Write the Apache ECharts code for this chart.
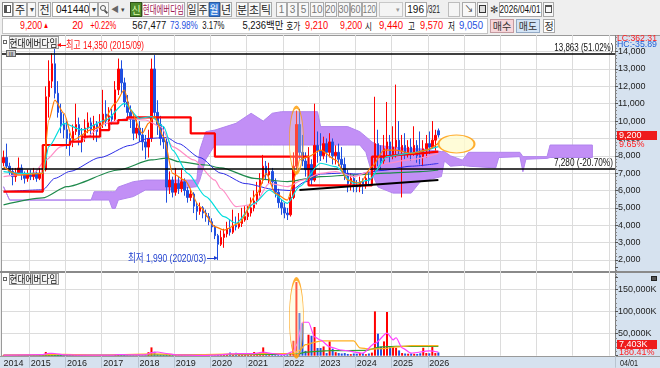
<!DOCTYPE html>
<html><head><meta charset="utf-8">
<script src="https://cdn.jsdelivr.net/npm/echarts@6/dist/echarts.min.js"></script>
<style>
html,body{margin:0;padding:0;}
body{width:660px;height:368px;overflow:hidden;position:relative;background:#efefef;font-family:'Liberation Sans Narrow','Liberation Sans','Noto Sans CJK KR',sans-serif;}
.a{position:absolute;box-sizing:border-box;}
#bg,#chart,#ov{position:absolute;left:0;top:0;width:660px;height:368px;}
#bg{z-index:1;} #chart{z-index:2;} #ov{z-index:3;pointer-events:none;}
</style></head><body>
<div id="bg"></div><div id="chart"></div><div id="ov"></div>
<script>
// ================= DATA =================
const startYear = 2014, startMonth = 4, nCats = 203;   // monthly axis 2014-04 .. 2031-02
// monthly candles [open, close, low, high]
const candles = [
 // 2014 (04-12)
 [7600,7900,7400,8300],[7900,7400,7200,8700],[7400,7100,6900,7600],[7100,6800,6300,7300],[6800,7000,6500,7300],[7000,7300,6900,7900],[7300,6900,6600,7500],[6900,6700,6400,7100],[6700,6900,6500,7200],
 // 2015
 [6900,6800,6600,7200],[6800,7000,6600,7300],[7000,6700,6500,7200],[6700,7000,6600,7300],[7000,7200,6800,7800],[7200,11400,7100,12000],[11400,12300,10200,13500],[12300,13300,11900,13900],[13300,11600,11300,14350],[11600,10500,10200,12300],[10500,9800,9300,11000],[9800,9500,9000,10400],
 // 2016
 [9500,9000,8400,10000],[9000,8800,8000,9300],[8800,9400,8500,9800],[9400,9800,9200,11000],[9800,9200,8600,10200],[9200,9000,8200,9600],[9000,9600,8800,10100],[9600,9900,9300,10500],[9900,9500,9100,10200],[9500,9800,8900,10300],[9800,9400,8800,10000],[9400,9900,9200,10400],
 // 2017
 [9900,10400,9600,11800],[10400,10000,9700,11200],[10000,10300,9700,10800],[10300,10100,9800,10700],[10100,11800,10000,12300],[11800,13000,11500,13600],[13000,12200,11600,13500],[12200,11100,10800,12500],[11100,10500,10200,11500],[10500,10100,9600,10900],[10100,9300,8900,10400],[9300,9600,9000,10100],
 // 2018
 [9600,9200,8800,10000],[9200,8800,8300,9600],[8800,8500,7800,9200],[8500,9000,7900,9500],[9000,13000,8800,13600],[13000,10500,10200,13800],[10500,9800,9200,11200],[9800,9000,8600,10300],[9000,8800,8400,9700],[8800,6200,5300,9000],[6200,6600,5800,7100],[6600,5900,5600,6800],
 // 2019
 [5900,6400,5700,7300],[6400,6100,5800,6800],[6100,6500,5900,7200],[6500,6000,5700,6700],[6000,5600,5300,6200],[5600,5800,5400,6100],[5800,5100,4700,5900],[5100,4800,4300,5300],[4800,5000,4600,5300],[5000,4700,4400,5100],[4700,4500,4200,4900],[4500,4200,4000,4700],
 // 2020
 [4200,3900,3600,4400],[3900,3400,3200,4000],[3400,2900,1990,3500],[2900,3300,2800,3700],[3300,3500,2700,3800],[3500,3800,3300,4200],[3800,3600,3400,4300],[3600,4000,3500,4900],[4000,3900,3700,4500],[3900,4100,3800,4700],[4100,4300,3900,5000],[4300,4500,4200,5100],
 // 2021
 [4500,4700,4300,5100],[4700,5000,4500,5600],[5000,5400,4800,6000],[5400,5900,5200,6500],[5900,6600,5700,7000],[6600,7400,6400,8050],[7400,6900,6600,7700],[6900,7100,6400,7600],[7100,6500,6200,7300],[6500,5900,5600,6700],[5900,5300,5000,6100],[5300,5000,4600,5500],
 // 2022
 [5000,4700,4400,5300],[4700,4600,4300,5000],[4600,5600,4500,5900],[5600,7400,5500,8200],[7400,9800,7200,10600],[9800,8200,7800,10700],[8200,7700,7400,9200],[7700,7200,6800,8200],[7200,7500,6700,8500],[7500,6600,6300,7800],[6600,8600,6500,11000],[8600,8300,7600,9400],
 // 2023
 [8300,8000,7700,9300],[8000,8700,7800,9100],[8700,8200,7600,9000],[8200,8800,7900,9300],[8800,8000,7500,9000],[8000,8200,7500,8600],[8200,7800,7400,8700],[7800,7500,7200,8500],[7500,7000,6600,7900],[7000,6400,5900,7200],[6400,6700,6000,7000],[6700,6300,5900,6900],
 // 2024
 [6300,6200,5900,6600],[6200,6500,5900,6800],[6500,6300,5800,6700],[6300,6700,6100,7000],[6700,6600,6300,7200],[6600,7300,6500,7800],[7300,8700,7100,11400],[8700,8000,7400,9500],[8000,7700,7200,8600],[7700,8400,7500,9200],[8400,8800,7900,11100],[8800,8000,7600,9200],
 // 2025
 [8000,8500,7800,9700],[8500,8900,7900,12100],[8900,8300,8000,10000],[8300,8600,5600,9200],[8600,8100,7800,9300],[8100,8500,7900,8900],[8500,8200,7700,9000],[8200,8600,8000,9700],[8600,8000,7600,8900],[8000,7900,7500,9400],[7900,8400,7400,8900],[8400,8700,7900,9200],
 // 2026 (01-04)
 [8700,8500,8100,9400],[8500,8900,8400,10000],[8900,9180,8300,9500],[9440,9200,9050,9570]
];
// monthly volume, thousand shares
const volumes = [
 1500,1200,900,800,1000,1500,1000,800,900,
 900,1100,900,1200,2500,8500,6000,4000,3500,2000,1500,1200,
 1200,1000,1300,1800,1300,1000,1100,1200,1000,1100,900,1000,
 1500,1200,1000,900,2000,3500,2500,1800,1200,1000,900,900,
 1000,900,1200,8000,18900,9000,3500,2500,1800,3000,1500,1200,
 1200,1000,1100,900,800,800,900,800,700,700,600,700,
 800,1000,2500,3000,2500,3000,7000,3500,6500,2500,2000,2500,
 3000,4000,8400,6000,7500,18900,6000,4000,3000,2500,2000,2000,
 1800,2000,3500,34000,167500,97000,74000,11000,47700,45400,65200,17500,
 17500,21000,6000,32500,15900,8000,6000,5000,6000,4000,3500,5000,
 4500,6000,5500,3500,5000,7000,100700,50000,20000,32500,99300,20500,
 20500,18000,12000,6000,5000,4500,5000,4500,4000,5500,18000,6000,
 5500,19700,6000,7403
];
// indicator lines: [monthIndex, value]
const ma5Pts  = [[0,7370],[5,6890],[13,6990],[15,10060],[17,11210],[20,10450],[23,8910],[29,9490],[32,9680],[37,11020],[40,11790],[42,10640],[46,9290],[48,9870],[50,10250],[53,9100],[56,6990],[60,6600],[65,5070],[70,3920],[73,3720],[78,4110],[84,5840],[87,6990],[90,5840],[94,5450],[97,6990],[98,7760],[101,7950],[105,8330],[110,7760],[114,6600],[118,6410],[122,7370],[126,8330],[130,8330],[135,8140],[140,8330],[144,8720]];
const ma10Pts = [[0,7090],[6,6990],[13,6990],[15,8530],[20,9870],[26,9490],[34,10060],[40,11020],[45,10160],[49,10250],[53,9680],[56,8330],[61,6990],[67,5650],[73,4490],[77,4110],[83,5260],[88,6030],[94,5260],[98,6220],[105,7570],[110,7370],[116,6410],[121,6600],[127,7950],[134,8140],[144,8530]];
const ma20Pts = [[0,6800],[10,6990],[14,7760],[19,8530],[26,8910],[34,9870],[41,10160],[47,10060],[52,9680],[56,8530],[63,7760],[70,6600],[72,6100],[77,5070],[83,5200],[88,6410],[94,6220],[99,6600],[105,6990],[110,7090],[116,6800],[121,7090],[127,7570],[134,7760],[144,8140]];
const ma60Pts = [[0,5930],[13,6040],[17,6700],[22,7100],[32,7900],[42,8600],[48,9000],[54,9050],[58,8700],[65,7900],[72,7000],[80,6400],[90,6050],[95,6000],[100,6500],[105,6950],[112,7000],[117,6950],[125,7150],[135,7400],[144,7560]];
const ma120Pts= [[0,5170],[13,5570],[21,6220],[38,7180],[49,7760],[54,7870],[58,7660],[67,7470],[72,7300],[83,6700],[94,6510],[105,6800],[116,6900],[127,7000],[138,7090],[144,7180]];
const kijunPts= [[0,5930],[13,8620],[21,8620],[22,8810],[26,9100],[32,9480],[35,9870],[38,10060],[41,10215],[62,9290],[70,7950],[101,6300],[122,7950],[126,8050],[131,8140],[138,8240],[144,8240]];
// cloud: [monthIndex, upper, lower]
const cloudPts = [[0,6220,6220],[2,5450,5450],[29,5450,5450],[30,5930,5450],[35,5930,5450],[36,5930,4970],[37,5930,4970],[38,6200,5450],[43,6510,5650],[47,6600,6030],[54,6600,6030],[64,6600,6220],[65,8330,6600],[67,9390,7800],[70,9480,8620],[77,9870,8620],[82,10450,8620],[86,10000,8620],[89,10450,8620],[92,10540,8620],[104,10540,8620],[105,9680,8620],[114,9680,8620],[118,9390,8620],[120,9100,8200],[122,8800,7000],[124,8600,6200],[129,8500,5850],[135,8400,5850],[138,8400,6500],[145,8240,6800],[146,8240,7700],[148,8000,7400],[152,7750,7450],[154,8200,7400],[163,8200,7300],[164,8200,7900],[171,8200,7950],[172,7950,7080],[173,7950,7800],[180,7950,7850],[181,8620,7900],[195,8620,7900]];
const trendPts = [[98,6030],[144,6600]];
const levelValues = [13863, 7280];
const levelLabels = ['13,863 (51.02%)', '7,280 (-20.70%)'];
const highNote = {month:'2015-09', value:14350, text:'최고 14,350 (2015/09)'};
const lowNote  = {month:'2020-03', value:1990,  text:'최저 1,990 (2020/03)'};
const priceEllipse = {month:'2022-05', value:8900};
const rightEllipse = {month:'2026-10', value:8680};
const volEllipse   = {month:'2022-05', value:86000};
const volMa5Pts  = [[0,1200],[13,2500],[15,5500],[17,5000],[20,2000],[24,1300],[36,1300],[38,2500],[41,2000],[47,2000],[49,7000],[51,8400],[54,5000],[57,2000],[66,900],[72,2000],[75,4000],[78,4500],[83,4500],[86,8000],[89,5000],[93,2500],[96,10000],[97,24000],[99,76000],[101,76000],[103,42600],[105,35200],[108,20200],[112,12800],[119,6000],[123,27800],[127,51500],[129,36000],[130,40800],[132,18000],[135,5800],[141,11000],[144,8400]];
const volMa20Pts = [[0,1500],[14,2500],[20,3000],[30,1500],[50,4000],[60,2000],[80,4000],[90,5000],[96,5000],[98,12000],[100,25000],[104,32000],[106,34000],[116,33500],[118,18000],[121,15000],[126,16000],[130,20000],[135,22700],[144,22700]];
const volMa60Pts = [[0,1200],[30,1300],[60,1800],[90,3000],[98,5000],[100,8000],[108,11500],[120,12000],[125,20000],[130,21500],[144,21000]];

// ================= BUILD =================
const cats = Array.from({length:nCats},(_,i)=>{const t=startMonth-1+i;return (startYear+Math.floor(t/12))+'-'+String(t%12+1).padStart(2,'0');});
const lastIdx = candles.length-1;
const RED='#ff0000', BLUE='#1f4fe0';
const FONT="'Liberation Sans Narrow','Liberation Sans','Noto Sans CJK KR',sans-serif";
const isJan = i => cats[i] && cats[i].endsWith('-01');
const splitColors = n => Array.from({length:n},(_,i)=>(i===0||i===n-1)?'rgba(0,0,0,0)':'#dcdcdc');
const fmt = v => v.toLocaleString('en-US');

function mk(p,x,y,w,h,css){const d=document.createElement('div');d.className='a';d.style.cssText=`left:${x}px;top:${y}px;width:${w}px;height:${h}px;`+(css||'');p.appendChild(d);return d;}
function tx(p,x,y,w,h,s,fs,color,align,css,fam){
  const j=align==='r'?'flex-end':align==='l'?'flex-start':'center';
  const d=mk(p,x,y,w,h,`display:flex;align-items:center;justify-content:${j};`+(css||''));
  const sp=document.createElement('span');sp.textContent=s;
  sp.style.cssText=`font-size:${fs}px;color:${color};white-space:nowrap;display:inline-block;line-height:1;`+(fam?`font-family:${fam};`:'');
  d.appendChild(sp);
  const sw=sp.getBoundingClientRect().width, av=w-2;
  if(sw>av&&sw>0){sp.style.transform=`scaleX(${av/sw})`;sp.style.transformOrigin=align==='r'?'100% 50%':align==='l'?'0 50%':'50% 50%';}
  return d;
}
const KR="'Noto Sans CJK KR',sans-serif";

// backgrounds
const bg=document.getElementById('bg');
mk(bg,0,0,660,368,'background:#efefef;');
mk(bg,1,35,615,322,'background:#ffffff;border:1px solid #9a9a9a;');
mk(bg,615,35,45,321,'background:#d6e2ef;border-top:1px solid #9a9a9a;');
mk(bg,0,356,660,12,'background:#d6e2ef;border-top:1px solid #9a9a9a;');
mk(bg,0,271,660,1.5,'background:#8a8a8a;');

// toolbar
const ov=document.getElementById('ov');
mk(ov,0,0,660,35,'background:#efefef;');
const BTN='background:#f8f8f8;border:1px solid #a9a9a9;';
function btn(s,x,w,css,col,fs,fam){return tx(ov,x,2,w,15,s,fs||11,col||'#222','c',BTN+(css||''),fam||KR);}
mk(ov,2,2,11,15,'background:#fff;border:1px solid #888;');
mk(ov,4,5,7,8,'border:1px solid #555;border-left-width:3px;');
btn('주',13,14);btn('▾',27,9,'',  '#444',8,FONT);btn('전',38,13);
tx(ov,52,2,38,15,'041440',10,'#111','l','background:#fff;border:1px solid #a9a9a9;padding-left:3px;',FONT);
btn('▾',89,9,'','#444',8,FONT);
mk(ov,98,2,11,15,BTN);mk(ov,100,5,6,6,'border:1.5px solid #555;border-radius:50%;');mk(ov,105,10,1.5,4,'background:#555;transform:rotate(-45deg);');
tx(ov,110,2,10,15,'◀',8,'#666','c','',FONT);tx(ov,120,2,6,15,'▾',7,'#444','c','',FONT);
btn('신',130,12,'background:#4f8a2a;border:1px solid #2f5216;','#dfffb0',10);
tx(ov,142,2,43,15,'현대에버다임',11,'#a0144f','c','background:#fff;border:1px solid #a9a9a9;',KR);
btn('일',187,11);btn('주',198,11);btn('월',209,11,'background:#3b7ed8;border:1px solid #2a5aa0;','#fff');btn('년',220,12);
btn('분',236,12);btn('초',248,12);btn('틱',260,12);
[['1',276,11],['3',287,11],['5',298,11],['10',310,14],['20',325,12],['30',338,12],['60',350,12],['120',362,15]].forEach(b=>btn(b[0],b[1],b[2],'','#777',10,FONT));
tx(ov,379,2,24,15,'▾',7,'#999','r','background:#f4f4f4;border:1px solid #c8c8c8;padding-right:2px;',FONT);
tx(ov,405,2,22,15,'196',10,'#111','r','background:#fff;border:1px solid #a9a9a9;padding-right:2px;',FONT);
tx(ov,427,2,15,15,'/321',10,'#222','l','',FONT);
mk(ov,448,2,12,15,BTN+'opacity:0.7;');mk(ov,462,2,14,15,BTN);tx(ov,462,2,14,15,'↘',9,'#333','c','',FONT);
mk(ov,477,2,11,15,BTN);mk(ov,479,5,7,8,'border:1px solid #333;background:#ddd;');
tx(ov,489,2,10,15,'✻',10,'#444','c','',FONT);
tx(ov,499,2,43,15,'2026/04/01',10,'#111','c','background:#fff;border:1px solid #a9a9a9;',FONT);
mk(ov,543,2,11,15,BTN);mk(ov,545,5,7,8,'border:1px solid #555;border-top-width:2px;');
// row 2
mk(ov,2,18,486,16,'background:#fff;border:1px solid #c4c4c4;');
const r2=[['9,200',18,24,RED],['20',70,13,RED],['+0.22%',88,28,RED],['567,477',130,36,'#111'],['73.98%',168,30,'#1f4fe0'],['3.17%',200,24,'#111'],['9,210',303,25,RED],['9,200',338,24,RED],['9,440',377,26,RED],['9,570',418,25,RED],['9,050',457,26,'#1f4fe0']];
r2.forEach(t=>tx(ov,t[1],19,t[2],14,t[0],10,t[3],'r','',FONT));
tx(ov,42,19,8,14,'▲',8,RED,'c','',FONT);
tx(ov,240,19,43,14,'5,236백만',10,'#111','r','',FONT);
tx(ov,285,19,16,14,'호가',10,'#111','c','',KR);
tx(ov,364,19,9,14,'시',10,'#111','c','',KR);tx(ov,407,19,9,14,'고',10,'#111','c','',KR);tx(ov,447,19,9,14,'저',10,'#111','c','',KR);
tx(ov,490,19,24,14,'매수',10,'#333','c','background:#f7d6da;border:1px solid #c49aa0;',KR);
tx(ov,516,19,24,14,'매도',10,'#333','c','background:#d3e4f6;border:1px solid #93a9c4;',KR);
tx(ov,543,19,12,14,'정',10,'#333','c','background:#fff;border:1px solid #a9a9a9;',KR);

// panel labels and right-side texts
mk(ov,3,40,4,4,'border:1px solid #666;');
tx(ov,9,36,50,13,'현대에버다임',10,'#111','c','background:#f3f3f3;border:1px solid #9a9a9a;',KR);
tx(ov,6,50,10,7,'III',6,'#333','c','background:#cfcfcf;border:1px solid #666;',FONT);
mk(ov,3,277,4,4,'border:1px solid #666;');
tx(ov,9,273,50,12,'현대에버다임',10,'#111','c','background:#f3f3f3;border:1px solid #9a9a9a;',KR);
tx(ov,617,35,42,6,'LC:362.31',9,'#ff2020','l','',FONT);
tx(ov,617,41,42,7,'HC:-35.89',9,'#1f5fd8','l','',FONT);
mk(ov,651,276,6,5,'background:#555;border:1px solid #222;');
tx(ov,620,358,20,10,'04/01',9,'#222','l','',FONT);

// ================= CHART =================
const chart=echarts.init(document.getElementById('chart'),null,{renderer:'canvas',width:660,height:368});
const idx = m => cats.indexOf(m);
const line=(pts,color,width,xi,yi,z,extra)=>Object.assign({type:'line',xAxisIndex:xi,yAxisIndex:yi,data:pts,showSymbol:false,symbol:'none',smooth:0.25,smoothMonotone:'x',lineStyle:{color,width},z,silent:true},extra||{});
const volData = volumes.map((v,i)=>({value:v,itemStyle:{color:candles[i][1]>=candles[i][0]?RED:BLUE}}));
const xCommon = {type:'category',data:cats,boundaryGap:true,axisLine:{show:false},
  splitLine:{show:true,interval:(i)=>isJan(i),lineStyle:{color:'#dcdcdc',width:1}}};

chart.setOption({
  animation:false,
  textStyle:{fontFamily:FONT},
  grid:[{left:2,top:34.26,width:613,height:243.05},{left:2,top:267.7,width:613,height:88}],
  xAxis:[
    Object.assign({},xCommon,{gridIndex:0,axisTick:{show:false},axisLabel:{show:false}}),
    Object.assign({},xCommon,{gridIndex:1,
      axisTick:{show:true,interval:(i)=>isJan(i)&&i<=lastIdx,length:12,lineStyle:{color:'#b8c4d0'}},
      axisLabel:{show:true,interval:(i)=>i===0||(isJan(i)&&i<=lastIdx),formatter:v=>v.slice(0,4),align:'left',fontSize:9,color:'#222',margin:3}})
  ],
  yAxis:[
    {type:'value',gridIndex:0,position:'right',min:1000,max:15000,interval:1000,
     axisLine:{show:true,lineStyle:{color:'#7f7f7f'}},axisTick:{show:true,length:3,lineStyle:{color:'#555'}},
     minorTick:{show:true,splitNumber:5,length:2,lineStyle:{color:'#888'}},
     axisLabel:{fontSize:9,color:'#222',margin:3,formatter:v=>(v===1000||v===15000)?'':fmt(v)},
     splitLine:{show:true,lineStyle:{color:splitColors(15)}}},
    {type:'value',gridIndex:1,position:'right',min:0,max:200000,interval:50000,
     axisLine:{show:true,lineStyle:{color:'#7f7f7f'}},axisTick:{show:true,length:3,lineStyle:{color:'#555'}},
     minorTick:{show:true,splitNumber:5,length:2,lineStyle:{color:'#888'}},
     axisLabel:{fontSize:9,color:'#222',margin:3,formatter:v=>(v===0||v===200000)?'':fmt(v)+'K'},
     splitLine:{show:true,lineStyle:{color:splitColors(5)}}}
  ],
  series:[
    {type:'custom',xAxisIndex:0,yAxisIndex:0,z:1,silent:true,data:[[0,cloudPts[0][1]]],
     renderItem:(params,api)=>{
       const top=cloudPts.map(p=>api.coord([p[0],p[1]]));
       const bot=cloudPts.slice().reverse().map(p=>api.coord([p[0],p[2]]));
       return {type:'polygon',shape:{points:top.concat(bot)},style:{fill:'#c28ff6',stroke:'#b184ee',lineWidth:1}};
     }},
    line(ma120Pts,'#1f8a4c',1.2,0,0,4),
    line(ma60Pts,'#2c2ce6',1,0,0,4),
    line(ma20Pts,'#ff8cc6',1.2,0,0,4),
    line(kijunPts,'#ff0000',2.2,0,0,4,{step:'end',smooth:false}),
    {type:'candlestick',xAxisIndex:0,yAxisIndex:0,data:candles,barWidth:2,z:3,
     itemStyle:{color:RED,color0:BLUE,borderColor:RED,borderColor0:BLUE,borderWidth:1},
     markLine:{silent:true,symbol:['none','none'],animation:false,
       lineStyle:{color:'#000',width:1.5,type:'solid'},label:{show:false},
       data:levelValues.map(v=>({yAxis:v}))}},
    line(ma10Pts,'#00dede',1.2,0,0,5),
    line(ma5Pts,'#ff7a00',1.2,0,0,5),
    line(trendPts,'#000',2,0,0,5,{smooth:false}),
    {type:'scatter',xAxisIndex:0,yAxisIndex:0,z:6,silent:true,
     data:[
       {value:[idx(priceEllipse.month),priceEllipse.value],symbolSize:[14,66],itemStyle:{color:'rgba(255,250,190,0.35)',borderColor:'#ff9a00',borderWidth:1.5}},
       {value:[idx(rightEllipse.month),rightEllipse.value],symbolSize:[36,18],itemStyle:{color:'rgba(255,251,204,0.95)',borderColor:'#ff9a00',borderWidth:1.5}}
     ]},
    {type:'bar',xAxisIndex:1,yAxisIndex:1,data:volData,barWidth:2,z:3},
    line(volMa60Pts,'#2ca02c',1.2,1,1,4),
    line(volMa20Pts,'#ffb020',1.2,1,1,4),
    line(volMa5Pts,'#ff40ff',1.2,1,1,4),
    {type:'scatter',xAxisIndex:1,yAxisIndex:1,z:6,silent:true,
     data:[{value:[idx(volEllipse.month),volEllipse.value],symbolSize:[14,78],itemStyle:{color:'rgba(255,250,190,0.45)',borderColor:'#ff9a00',borderWidth:1.5}}]}
  ]
});

// texts anchored through the chart's scales
const P = (m,v)=>chart.convertToPixel({xAxisIndex:0,yAxisIndex:0},[idx(m),v]);
levelValues.forEach((v,i)=>{const y=chart.convertToPixel({yAxisIndex:0},v);tx(ov,552,y-11.5,61,11,levelLabels[i],11,'#111','r','',FONT);});
const hp=P(highNote.month,highNote.value);
mk(ov,hp[0]+3,hp[1]-0.5,8,1.2,'background:#ff1010;');
mk(ov,hp[0]+2,hp[1]-3,0,0,'border-top:2.6px solid transparent;border-bottom:2.6px solid transparent;border-right:4px solid #ff1010;');
tx(ov,hp[0]+11,hp[1]-6.5,80,13,highNote.text,11,'#ff1010','l','',FONT);
const lp=P(lowNote.month,lowNote.value);
tx(ov,lp[0]-92,lp[1]-8,80,13,lowNote.text,11,'#1f3fd0','r','',FONT);
mk(ov,lp[0]-11,lp[1]-2,7,1.2,'background:#1f3fd0;');
mk(ov,lp[0]-4,lp[1]-4.2,0,0,'border-top:2.6px solid transparent;border-bottom:2.6px solid transparent;border-left:4px solid #1f3fd0;');

// current price / volume boxes
const lastC = candles[lastIdx][1];
const py = chart.convertToPixel({yAxisIndex:0}, lastC);
tx(ov,617,Math.round(py)-4.5,40,9,fmt(lastC),9,'#fff','l','background:#ee1c1c;padding-left:2px;',FONT);
tx(ov,617,Math.round(py)+5,40,8,'9.65%',9,'#ff2020','l','padding-left:2px;',FONT);
tx(ov,617,339.5,40,9,fmt(volumes[lastIdx])+'K',9,'#fff','l','background:#ee1c1c;padding-left:2px;',FONT);
tx(ov,617,348.5,40,8,'180.41%',9,'#ff2020','l','padding-left:2px;',FONT);
</script></body></html>
